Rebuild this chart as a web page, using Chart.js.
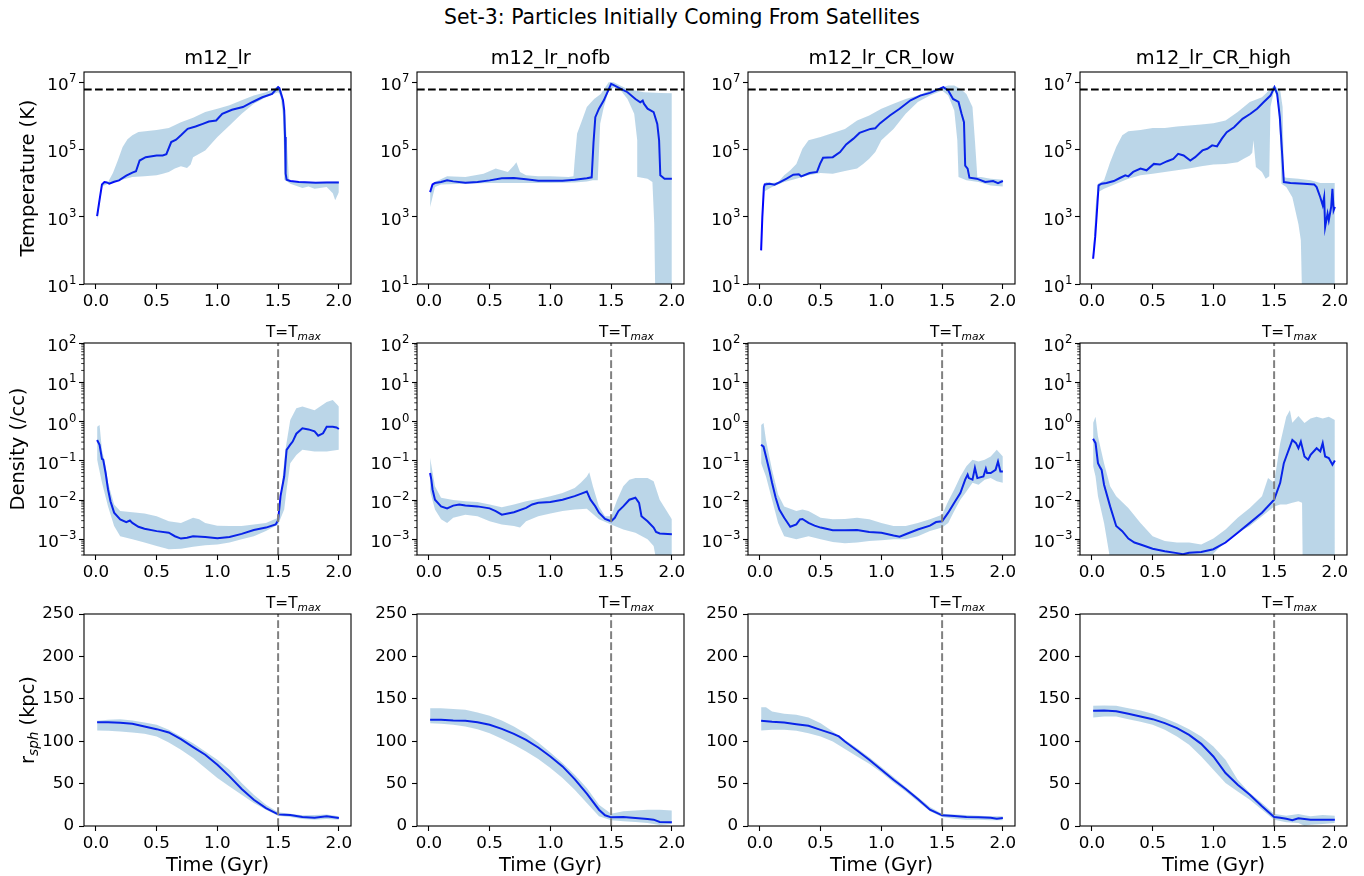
<!DOCTYPE html>
<html>
<head>
<meta charset="utf-8">
<script src="https://cdn.jsdelivr.net/npm/chart.js@4.4.0/dist/chart.umd.min.js"></script>
<style>
  body { margin: 0; background: #fff; }
  #fig { position: relative; width: 1364px; height: 876px; background: #fff; overflow: hidden; }
  #fig canvas { position: absolute; }
  #suptitle { position: absolute; left: 0; top: 5px; width: 1364px; text-align: center;
              font: 20.4px "DejaVu Sans", sans-serif; color: #000; }
</style>
</head>
<body>
<div id="fig">
  <div id="suptitle">Set-3: Particles Initially Coming From Satellites</div>
</div>
<script>
const runNames = ['m12_lr', 'm12_lr_nofb', 'm12_lr_CR_low', 'm12_lr_CR_high'];
const xTicks = [0, 0.5, 1.0, 1.5, 2.0];
const tempTicks = [1e1, 1e3, 1e5, 1e7];
const densTicks = [1e-3, 1e-2, 1e-1, 1e0, 1e1, 1e2];
const radTicks = [0, 50, 100, 150, 200, 250];
const tempRef = 6e6;   // black dashed line in the temperature panels
const tMax = 1.5;      // T = T_max marker (Gyr)

// temperature: [time (Gyr), log10 T (K)]
const tempMed_lr = [[0.01,3.02],[0.03,3.5],[0.05,3.96],[0.07,4.03],[0.09,4.02],[0.11,3.98],[0.15,4.04],[0.19,4.08],[0.25,4.22],[0.3,4.31],[0.33,4.35],[0.36,4.67],[0.41,4.77],[0.5,4.82],[0.55,4.82],[0.58,4.86],[0.62,5.22],[0.66,5.29],[0.7,5.42],[0.755,5.61],[0.82,5.68],[0.88,5.76],[0.93,5.83],[0.99,5.86],[1.04,6.06],[1.12,6.18],[1.21,6.26],[1.29,6.41],[1.37,6.55],[1.45,6.65],[1.5,6.85],[1.51,6.82],[1.54,6.46],[1.55,6.16],[1.557,5.37],[1.562,4.28],[1.57,4.1],[1.6,4.06],[1.67,4.03],[1.81,4.01],[1.9,4.02],[2.0,4.02]];
const tempHi_lr = [[0.01,3.09],[0.05,3.98],[0.1,4.03],[0.14,4.3],[0.18,4.67],[0.22,5.07],[0.26,5.3],[0.3,5.42],[0.35,5.52],[0.5,5.58],[0.6,5.64],[0.7,5.81],[0.8,5.94],[0.9,6.11],[1.0,6.21],[1.1,6.31],[1.2,6.46],[1.3,6.6],[1.4,6.7],[1.5,6.88],[1.53,6.75],[1.56,6.0],[1.575,5.0],[1.59,4.1],[1.6,4.05],[1.8,4.03],[2.0,4.05]];
const tempLo_lr = [[0.01,2.89],[0.05,3.9],[0.1,3.98],[0.2,4.08],[0.3,4.18],[0.4,4.2],[0.5,4.23],[0.55,4.28],[0.6,4.33],[0.65,4.43],[0.7,4.5],[0.75,4.45],[0.78,4.55],[0.8,4.77],[0.9,4.97],[0.95,5.17],[1.0,5.37],[1.1,5.71],[1.2,6.06],[1.3,6.36],[1.4,6.55],[1.5,6.7],[1.52,6.6],[1.54,6.0],[1.55,4.8],[1.555,4.1],[1.6,3.98],[1.7,3.85],[1.75,3.9],[1.8,3.83],[1.9,3.88],[1.95,3.7],[1.97,3.49],[2.0,3.73]];

const tempMed_nofb = [[0.01,3.73],[0.03,3.96],[0.05,4.0],[0.1,4.03],[0.15,4.08],[0.2,4.05],[0.3,4.01],[0.4,4.03],[0.5,4.08],[0.6,4.14],[0.7,4.15],[0.8,4.11],[0.9,4.07],[1.0,4.07],[1.1,4.07],[1.2,4.1],[1.3,4.14],[1.34,4.17],[1.355,5.2],[1.37,5.96],[1.4,6.21],[1.44,6.46],[1.5,6.95],[1.51,6.93],[1.58,6.8],[1.635,6.7],[1.7,6.5],[1.74,6.4],[1.76,6.45],[1.77,6.36],[1.8,6.21],[1.85,6.11],[1.88,5.76],[1.895,5.27],[1.905,4.23],[1.94,4.13],[2.0,4.13]];
const tempHi_nofb = [[0.01,3.78],[0.05,4.03],[0.15,4.2],[0.3,4.18],[0.45,4.28],[0.55,4.43],[0.65,4.33],[0.7,4.52],[0.72,4.62],[0.75,4.33],[0.8,4.23],[0.9,4.2],[1.0,4.2],[1.15,4.18],[1.19,4.2],[1.2,4.67],[1.22,5.47],[1.26,5.86],[1.3,6.26],[1.36,6.5],[1.415,6.65],[1.48,7.0],[1.52,7.0],[1.63,6.8],[1.77,6.7],[1.91,6.68],[2.0,6.67]];
const tempLo_nofb = [[0.01,3.29],[0.05,3.88],[0.1,3.96],[0.3,3.98],[0.5,4.0],[0.8,4.0],[1.0,4.0],[1.2,4.02],[1.3,4.05],[1.35,4.08],[1.39,4.08],[1.41,5.76],[1.44,6.26],[1.48,6.75],[1.525,6.85],[1.58,6.75],[1.635,6.5],[1.69,6.06],[1.715,5.27],[1.72,4.18],[1.8,4.13],[1.84,4.03],[1.855,2.8],[1.87,-1],[2.0,-1]];

const tempMed_low = [[0.01,2.0],[0.02,2.99],[0.033,3.88],[0.04,3.96],[0.08,3.98],[0.12,3.95],[0.165,4.03],[0.22,4.13],[0.275,4.25],[0.32,4.26],[0.34,4.2],[0.41,4.3],[0.47,4.33],[0.495,4.57],[0.52,4.75],[0.6,4.77],[0.66,4.92],[0.71,5.15],[0.77,5.32],[0.82,5.49],[0.91,5.61],[0.95,5.63],[0.99,5.78],[1.07,6.01],[1.15,6.21],[1.24,6.46],[1.32,6.6],[1.4,6.68],[1.46,6.77],[1.51,6.85],[1.55,6.75],[1.59,6.5],[1.635,6.41],[1.66,6.06],[1.68,5.81],[1.69,4.52],[1.71,4.43],[1.725,4.16],[1.785,4.13],[1.855,4.03],[1.92,4.06],[1.96,4.0],[2.0,4.06]];
const tempHi_low = [[0.01,2.1],[0.03,3.88],[0.05,4.03],[0.1,4.0],[0.15,4.03],[0.2,4.23],[0.25,4.38],[0.3,4.57],[0.35,5.02],[0.4,5.27],[0.5,5.37],[0.6,5.49],[0.7,5.61],[0.8,5.86],[0.9,6.01],[1.0,6.21],[1.1,6.36],[1.2,6.5],[1.3,6.6],[1.4,6.75],[1.5,6.85],[1.55,6.9],[1.6,6.9],[1.65,6.8],[1.7,6.65],[1.75,6.26],[1.77,5.27],[1.79,4.18],[1.82,4.18],[1.9,4.13],[2.0,4.1]];
const tempLo_low = [[0.01,1.95],[0.03,3.73],[0.05,3.78],[0.1,3.88],[0.2,4.03],[0.3,4.13],[0.4,4.23],[0.5,4.3],[0.6,4.28],[0.7,4.36],[0.8,4.43],[0.85,4.57],[0.9,4.72],[0.95,4.92],[1.0,5.27],[1.1,5.61],[1.2,6.06],[1.3,6.41],[1.4,6.6],[1.5,6.75],[1.55,6.6],[1.6,6.16],[1.625,5.27],[1.635,4.18],[1.7,4.08],[1.8,4.03],[1.9,3.93],[2.0,3.9]];

const tempMed_high = [[0.01,1.75],[0.027,2.4],[0.04,3.09],[0.055,3.93],[0.08,3.98],[0.12,4.0],[0.18,4.06],[0.23,4.15],[0.275,4.23],[0.3,4.2],[0.34,4.33],[0.4,4.43],[0.45,4.38],[0.51,4.57],[0.56,4.55],[0.62,4.65],[0.67,4.72],[0.71,4.87],[0.755,4.82],[0.81,4.67],[0.85,4.77],[0.91,4.97],[0.95,5.02],[0.99,5.12],[1.03,5.09],[1.07,5.32],[1.11,5.51],[1.17,5.66],[1.24,5.91],[1.305,6.06],[1.36,6.21],[1.415,6.41],[1.47,6.6],[1.503,6.85],[1.525,6.65],[1.547,5.96],[1.566,4.87],[1.58,4.03],[1.635,4.0],[1.745,3.98],[1.83,3.96],[1.85,3.88],[1.88,3.58],[1.9,3.34],[1.912,3.58],[1.92,2.69],[1.94,3.09],[1.95,2.89],[1.97,3.3],[1.98,3.83],[1.99,3.19],[2.0,3.29]];
const tempHi_high = [[0.01,1.9],[0.03,3.29],[0.05,3.98],[0.1,4.08],[0.15,4.62],[0.2,5.07],[0.25,5.42],[0.3,5.54],[0.4,5.58],[0.5,5.64],[0.6,5.64],[0.7,5.68],[0.8,5.71],[0.9,5.74],[1.0,5.78],[1.1,5.86],[1.2,6.11],[1.3,6.41],[1.4,6.55],[1.5,6.9],[1.55,6.75],[1.57,6.26],[1.58,4.18],[1.6,4.16],[1.7,4.13],[1.8,4.08],[1.88,4.0],[2.0,4.0]];
const tempLo_high = [[0.01,1.7],[0.03,2.69],[0.05,3.73],[0.1,3.83],[0.2,3.98],[0.3,4.13],[0.4,4.23],[0.5,4.28],[0.6,4.33],[0.7,4.38],[0.8,4.43],[0.9,4.5],[1.0,4.55],[1.1,4.57],[1.2,4.62],[1.25,4.72],[1.3,4.82],[1.32,4.9],[1.33,5.27],[1.35,4.48],[1.4,4.33],[1.43,4.13],[1.46,4.2],[1.47,6.26],[1.5,6.75],[1.53,6.5],[1.55,5.27],[1.56,3.98],[1.6,3.88],[1.65,3.58],[1.7,2.78],[1.72,2.3],[1.74,-1],[2.0,-1]];

// density: [time (Gyr), log10 n (/cc)]
const densMed_lr = [[0.01,-0.47],[0.03,-0.59],[0.05,-0.95],[0.06,-0.97],[0.08,-1.31],[0.1,-1.73],[0.12,-2.03],[0.15,-2.32],[0.2,-2.49],[0.25,-2.56],[0.28,-2.52],[0.3,-2.58],[0.35,-2.68],[0.4,-2.73],[0.5,-2.79],[0.6,-2.83],[0.65,-2.92],[0.7,-2.98],[0.75,-2.96],[0.8,-2.92],[0.9,-2.94],[1.0,-2.97],[1.1,-2.94],[1.2,-2.86],[1.3,-2.76],[1.4,-2.7],[1.48,-2.62],[1.5,-2.51],[1.52,-1.9],[1.55,-1.4],[1.57,-0.72],[1.6,-0.59],[1.62,-0.51],[1.65,-0.31],[1.7,-0.17],[1.75,-0.2],[1.8,-0.25],[1.83,-0.36],[1.87,-0.3],[1.9,-0.13],[1.95,-0.13],[1.98,-0.15],[2.0,-0.19]];
const densHi_lr = [[0.01,-0.13],[0.03,-0.09],[0.05,-0.72],[0.08,-1.14],[0.1,-1.56],[0.15,-2.11],[0.2,-2.28],[0.3,-2.31],[0.4,-2.34],[0.5,-2.41],[0.6,-2.54],[0.7,-2.58],[0.8,-2.45],[0.85,-2.49],[0.9,-2.58],[1.0,-2.65],[1.1,-2.66],[1.2,-2.66],[1.3,-2.62],[1.4,-2.58],[1.5,-2.45],[1.53,-1.65],[1.56,-0.72],[1.6,0.04],[1.65,0.34],[1.7,0.38],[1.8,0.29],[1.9,0.5],[1.95,0.55],[2.0,0.38]];
const densLo_lr = [[0.01,-0.97],[0.05,-1.56],[0.1,-2.16],[0.15,-2.66],[0.2,-2.92],[0.3,-3.0],[0.4,-3.08],[0.5,-3.17],[0.6,-3.25],[0.7,-3.24],[0.8,-3.19],[0.9,-3.15],[1.0,-3.13],[1.1,-3.08],[1.2,-3.0],[1.3,-2.92],[1.4,-2.79],[1.5,-2.62],[1.55,-2.24],[1.57,-1.73],[1.6,-1.06],[1.65,-0.85],[1.7,-0.72],[1.8,-0.76],[1.9,-0.76],[2.0,-0.72]];

const densMed_nofb = [[0.01,-1.31],[0.02,-1.48],[0.03,-1.73],[0.05,-1.99],[0.1,-2.16],[0.15,-2.21],[0.2,-2.14],[0.25,-2.11],[0.3,-2.14],[0.4,-2.16],[0.5,-2.21],[0.55,-2.28],[0.6,-2.37],[0.7,-2.31],[0.8,-2.2],[0.85,-2.11],[0.9,-2.07],[1.0,-2.05],[1.1,-1.99],[1.2,-1.9],[1.25,-1.84],[1.3,-1.78],[1.33,-1.99],[1.37,-2.16],[1.4,-2.32],[1.45,-2.48],[1.5,-2.54],[1.53,-2.45],[1.56,-2.28],[1.6,-2.16],[1.65,-1.99],[1.7,-1.94],[1.73,-2.07],[1.75,-2.41],[1.8,-2.54],[1.85,-2.7],[1.87,-2.81],[1.9,-2.85],[2.0,-2.87]];
const densHi_nofb = [[0.01,-0.93],[0.05,-1.65],[0.1,-1.94],[0.2,-2.0],[0.3,-2.03],[0.4,-2.05],[0.5,-2.11],[0.6,-2.18],[0.7,-2.11],[0.8,-2.03],[0.9,-1.97],[1.0,-1.9],[1.1,-1.82],[1.2,-1.69],[1.25,-1.56],[1.3,-1.4],[1.32,-1.29],[1.35,-1.65],[1.4,-2.16],[1.45,-2.41],[1.5,-2.41],[1.55,-1.99],[1.6,-1.65],[1.65,-1.48],[1.7,-1.44],[1.8,-1.44],[1.85,-1.52],[1.9,-1.99],[1.95,-2.24],[2.0,-2.49]];
const densLo_nofb = [[0.01,-1.78],[0.05,-2.24],[0.1,-2.49],[0.15,-2.58],[0.2,-2.45],[0.3,-2.37],[0.4,-2.41],[0.5,-2.54],[0.6,-2.62],[0.7,-2.66],[0.75,-2.7],[0.8,-2.54],[0.9,-2.41],[1.0,-2.34],[1.1,-2.28],[1.2,-2.24],[1.3,-2.22],[1.4,-2.49],[1.5,-2.62],[1.6,-2.75],[1.7,-2.83],[1.8,-3.0],[1.85,-3.17],[1.87,-3.5],[1.88,-6],[2.0,-6]];

const densMed_low = [[0.01,-0.59],[0.03,-0.64],[0.05,-0.89],[0.08,-1.27],[0.1,-1.56],[0.13,-1.94],[0.16,-2.24],[0.2,-2.45],[0.25,-2.68],[0.3,-2.62],[0.33,-2.49],[0.35,-2.48],[0.4,-2.58],[0.45,-2.65],[0.5,-2.7],[0.6,-2.77],[0.7,-2.77],[0.8,-2.76],[0.9,-2.81],[1.0,-2.83],[1.1,-2.9],[1.15,-2.93],[1.2,-2.87],[1.3,-2.75],[1.4,-2.65],[1.45,-2.56],[1.5,-2.54],[1.55,-2.32],[1.6,-2.07],[1.65,-1.82],[1.69,-1.48],[1.71,-1.35],[1.72,-1.44],[1.75,-1.48],[1.77,-1.18],[1.79,-1.44],[1.84,-1.4],[1.86,-1.2],[1.87,-1.31],[1.9,-1.31],[1.94,-1.23],[1.96,-1.02],[1.98,-1.27],[2.0,-1.27]];
const densHi_low = [[0.01,-0.09],[0.03,-0.04],[0.05,-0.47],[0.1,-1.23],[0.15,-1.86],[0.2,-2.16],[0.3,-2.28],[0.35,-2.24],[0.4,-2.28],[0.5,-2.45],[0.6,-2.49],[0.7,-2.48],[0.8,-2.45],[0.9,-2.49],[1.0,-2.58],[1.1,-2.66],[1.2,-2.66],[1.3,-2.58],[1.4,-2.49],[1.5,-2.37],[1.55,-2.03],[1.6,-1.73],[1.65,-1.4],[1.7,-1.14],[1.75,-0.97],[1.8,-1.02],[1.85,-0.97],[1.9,-0.89],[1.95,-0.72],[2.0,-0.89]];
const densLo_low = [[0.01,-1.06],[0.05,-1.4],[0.1,-1.99],[0.15,-2.58],[0.2,-2.92],[0.3,-3.0],[0.4,-2.92],[0.5,-3.0],[0.6,-3.07],[0.7,-3.1],[0.8,-3.08],[0.9,-3.04],[1.0,-3.02],[1.1,-3.0],[1.2,-3.0],[1.3,-2.92],[1.4,-2.79],[1.5,-2.7],[1.55,-2.58],[1.6,-2.28],[1.65,-1.99],[1.7,-1.78],[1.75,-1.56],[1.8,-1.61],[1.85,-1.48],[1.9,-1.44],[1.95,-1.52],[2.0,-1.56]];

const densMed_high = [[0.01,-0.44],[0.03,-0.55],[0.05,-1.06],[0.07,-1.18],[0.08,-1.23],[0.1,-1.61],[0.15,-2.16],[0.2,-2.66],[0.25,-2.79],[0.3,-2.98],[0.35,-3.08],[0.4,-3.13],[0.5,-3.24],[0.6,-3.3],[0.7,-3.35],[0.75,-3.38],[0.8,-3.34],[0.9,-3.32],[1.0,-3.25],[1.1,-3.08],[1.2,-2.83],[1.3,-2.58],[1.4,-2.32],[1.5,-1.99],[1.55,-1.56],[1.58,-1.06],[1.6,-0.89],[1.63,-0.64],[1.65,-0.47],[1.68,-0.55],[1.7,-0.68],[1.72,-0.51],[1.75,-0.89],[1.78,-0.97],[1.8,-0.85],[1.85,-0.68],[1.88,-0.76],[1.9,-0.55],[1.92,-0.89],[1.95,-0.93],[1.98,-1.1],[2.0,-0.99]];
const densHi_high = [[0.01,-0.03],[0.03,0.12],[0.05,-0.38],[0.1,-1.06],[0.15,-1.65],[0.2,-1.9],[0.3,-2.2],[0.4,-2.58],[0.5,-2.92],[0.6,-3.04],[0.7,-3.08],[0.8,-3.08],[0.9,-3.13],[1.0,-2.98],[1.1,-2.75],[1.2,-2.45],[1.3,-2.2],[1.4,-1.9],[1.45,-1.44],[1.5,-1.56],[1.55,-0.55],[1.6,0.12],[1.63,0.29],[1.65,-0.03],[1.7,0.14],[1.75,-0.04],[1.8,0.08],[1.85,0.12],[1.9,0.08],[1.95,0.12],[2.0,0.04]];
const densLo_high = [[0.01,-1.14],[0.03,-1.4],[0.05,-1.9],[0.1,-2.58],[0.15,-3.5],[0.17,-5],[0.97,-5],[1.0,-3.36],[1.05,-3.21],[1.1,-3.08],[1.2,-2.83],[1.3,-2.66],[1.4,-2.41],[1.5,-2.16],[1.55,-2.11],[1.6,-2.11],[1.65,-2.07],[1.7,-2.03],[1.73,-2.07],[1.74,-5],[2.0,-5]];

// spherical radius: [time (Gyr), r (kpc)]
const radMed_lr = [[0.01,122.4],[0.1,122.4],[0.2,121.7],[0.3,120.5],[0.4,117.3],[0.5,114.2],[0.6,110.3],[0.7,102.4],[0.8,93],[0.9,84],[1.0,72.2],[1.1,58.5],[1.2,43.6],[1.3,31],[1.4,21.2],[1.5,13.7],[1.55,13.3],[1.6,13],[1.7,10.6],[1.8,9.8],[1.9,11.4],[2.0,9.4]];
const radHi_lr = [[0.01,124],[0.1,125.2],[0.2,126],[0.3,124.4],[0.4,122],[0.5,119.3],[0.6,113.4],[0.7,105.6],[0.8,97.7],[0.9,87.9],[1.0,78.1],[1.1,66.3],[1.2,50.6],[1.3,36.9],[1.4,25.1],[1.5,16.1],[1.6,14.5],[1.7,12.6],[1.8,13],[1.9,13.7],[2.0,11.4]];
const radLo_lr = [[0.01,112.6],[0.1,112.2],[0.2,111.5],[0.3,110.3],[0.4,108.7],[0.5,105.6],[0.6,98.5],[0.7,89.9],[0.8,80.1],[0.9,68.3],[1.0,56.5],[1.1,46.7],[1.2,36.9],[1.3,27.1],[1.4,19.2],[1.5,12.2],[1.6,10.6],[1.7,8.2],[1.8,7.5],[1.9,8.2],[2.0,7.5]];

const radMed_nofb = [[0.01,125.2],[0.1,125.2],[0.2,124.4],[0.3,124],[0.4,122.4],[0.5,119.3],[0.6,114.6],[0.7,108.7],[0.8,101.6],[0.9,92.6],[1.0,82],[1.1,70.3],[1.2,55.3],[1.3,38.1],[1.4,19.2],[1.45,12.6],[1.5,10.2],[1.6,10.6],[1.7,9.4],[1.8,8.2],[1.85,7.5],[1.9,4.7],[2.0,4.3]];
const radHi_nofb = [[0.01,138.9],[0.1,138.9],[0.2,138.1],[0.3,137],[0.4,133.8],[0.5,129.9],[0.6,124.4],[0.7,117.3],[0.8,108.7],[0.9,98.5],[1.0,86.7],[1.1,74.2],[1.2,60.4],[1.3,44.7],[1.4,25.1],[1.5,14.5],[1.6,17.3],[1.7,18.4],[1.8,19.2],[1.9,19.2],[2.0,18.4]];
const radLo_nofb = [[0.01,121.3],[0.1,120.5],[0.2,119.3],[0.3,117.3],[0.4,114.2],[0.5,109.5],[0.6,102.8],[0.7,95.8],[0.8,87.9],[0.9,78.9],[1.0,68.3],[1.1,56.5],[1.2,42.8],[1.3,27.1],[1.4,11.4],[1.5,6.7],[1.6,5.5],[1.7,4.7],[1.8,3.5],[1.9,1.2],[2.0,2.4]];

const radMed_low = [[0.01,124],[0.1,122.8],[0.2,122],[0.3,120],[0.4,118.1],[0.5,113.4],[0.6,108.7],[0.65,105.6],[0.7,99.7],[0.8,89.1],[0.9,78.1],[1.0,66.3],[1.1,54.6],[1.2,43.6],[1.3,31.8],[1.4,19.2],[1.5,12.6],[1.6,11.8],[1.7,10.6],[1.8,10.2],[1.9,9.8],[1.95,8.6],[2.0,9.4]];
const radHi_low = [[0.01,140.1],[0.05,140.1],[0.1,135],[0.2,132.3],[0.3,131.1],[0.4,127.9],[0.5,121.3],[0.6,111.5],[0.7,101.6],[0.8,91.8],[0.9,81.2],[1.0,69.5],[1.1,57.7],[1.2,45.9],[1.3,34.1],[1.4,22.4],[1.5,14.5],[1.6,13.7],[1.7,13],[1.8,12.2],[1.9,11.4],[2.0,11.4]];
const radLo_low = [[0.01,112.6],[0.1,113.4],[0.2,113.4],[0.3,112.2],[0.4,109.5],[0.5,105.6],[0.6,99.7],[0.7,90.7],[0.8,82],[0.9,73.4],[1.0,63.2],[1.1,51.4],[1.2,40.8],[1.3,29],[1.4,17.3],[1.5,10.6],[1.6,8.6],[1.7,7.5],[1.8,7.5],[1.9,6.7],[2.0,6.7]];

const radMed_high = [[0.01,135.8],[0.1,136.2],[0.2,135.4],[0.3,132.3],[0.4,129.1],[0.5,126],[0.6,121.3],[0.7,115.4],[0.8,107.5],[0.9,96.9],[1.0,82],[1.1,62.4],[1.2,48.7],[1.3,36.9],[1.4,23.2],[1.5,10.6],[1.55,9.8],[1.6,8.6],[1.65,6.7],[1.7,9],[1.8,7.5],[1.9,7.5],[2.0,7.5]];
const radHi_high = [[0.01,141.7],[0.1,142.1],[0.2,141.7],[0.3,138.9],[0.4,136.2],[0.5,132.3],[0.6,127.2],[0.7,121.3],[0.8,114.2],[0.9,105.6],[1.0,93.8],[1.1,78.1],[1.2,54.6],[1.3,38.9],[1.4,27.1],[1.5,14.5],[1.6,12.2],[1.7,14.1],[1.75,12.6],[1.8,11.4],[1.9,13],[2.0,12.2]];
const radLo_high = [[0.01,128],[0.1,129.1],[0.2,129.1],[0.3,126],[0.4,122.8],[0.5,119.3],[0.6,113.4],[0.7,105.6],[0.8,95.8],[0.9,82],[1.0,66.3],[1.1,50.6],[1.2,40.8],[1.3,31],[1.4,19.2],[1.5,7.5],[1.6,4.3],[1.7,3.5],[1.75,0.4],[1.8,1.6],[1.9,2.4],[2.0,3.5]];

const tempSeries = [[tempLo_lr, tempHi_lr, tempMed_lr], [tempLo_nofb, tempHi_nofb, tempMed_nofb],
                    [tempLo_low, tempHi_low, tempMed_low], [tempLo_high, tempHi_high, tempMed_high]];
const densSeries = [[densLo_lr, densHi_lr, densMed_lr], [densLo_nofb, densHi_nofb, densMed_nofb],
                    [densLo_low, densHi_low, densMed_low], [densLo_high, densHi_high, densMed_high]];
const radSeries = [[radLo_lr, radHi_lr, radMed_lr], [radLo_nofb, radHi_nofb, radMed_nofb],
                   [radLo_low, radHi_low, radMed_low], [radLo_high, radHi_high, radMed_high]];
const rowSeries = [tempSeries, densSeries, radSeries];

const rowAxes = [
    { log: true, min: 1e1, max: 2e7, ticks: tempTicks, minor: false, label: 'Temperature (K)', labelOffset: 50 },
    { log: true, min: 4e-4, max: 1e2, ticks: densTicks, minor: true, label: 'Density (/cc)', labelOffset: 60 },
    { log: false, min: 0, max: 250, ticks: radTicks, minor: false, label: null, labelOffset: 50 }
];

const FONT = '"DejaVu Sans", sans-serif';
const colLeft = [84, 417, 748, 1080];
const rowTop = [72, 343, 614];
const plotW = 267, plotH = 212;
const padL = 84, padT = 42, padR = 14, padB = 50;
const bandColor = 'rgba(31,119,180,0.3)';

const toPoints = (arr, log) => arr.map(([t, v]) => ({ x: t, y: log ? Math.pow(10, v) : v }));

function drawPow10(ctx, right, py, exp) {
    const e = exp < 0 ? '\u2212' + Math.abs(exp) : String(exp);
    ctx.font = '16.7px ' + FONT;
    const wBase = ctx.measureText('10').width;
    ctx.font = '11.7px ' + FONT;
    const wExp = ctx.measureText(e).width;
    const left = right - wBase - wExp - 0.5;
    ctx.textAlign = 'left';
    ctx.textBaseline = 'alphabetic';
    ctx.font = '16.7px ' + FONT;
    ctx.fillText('10', left, py + 8);
    ctx.font = '11.7px ' + FONT;
    ctx.fillText(e, left + wBase + 0.5, py);
}

function makeDecor(row, col) {
    const ax = rowAxes[row];
    return {
        id: 'decor',
        afterDatasetsDraw(chart) {
            const { ctx, chartArea: a, scales } = chart;
            ctx.save();
            ctx.beginPath();
            ctx.rect(a.left, a.top, a.right - a.left, a.bottom - a.top);
            ctx.clip();
            ctx.lineWidth = 2;
            ctx.setLineDash([7.7, 3.3]);
            ctx.beginPath();
            if (row === 0) {
                const py = scales.y.getPixelForValue(tempRef);
                ctx.strokeStyle = '#000';
                ctx.moveTo(a.left, py);
                ctx.lineTo(a.right, py);
            } else {
                const px = scales.x.getPixelForValue(tMax);
                ctx.strokeStyle = '#808080';
                ctx.moveTo(px, a.bottom);
                ctx.lineTo(px, a.top);
            }
            ctx.stroke();
            ctx.restore();
        },
        afterDraw(chart) {
            const { ctx, chartArea: a, scales: { x, y } } = chart;
            const cx = (a.left + a.right) / 2, cy = (a.top + a.bottom) / 2;
            ctx.save();
            ctx.strokeStyle = '#000';
            ctx.lineWidth = 1.1;
            ctx.strokeRect(a.left, a.top, a.right - a.left, a.bottom - a.top);
            ctx.fillStyle = '#000';
            ctx.textBaseline = 'alphabetic';

            if (row === 0) {
                ctx.font = '19.4px ' + FONT;
                ctx.textAlign = 'center';
                ctx.fillText(runNames[col], cx, a.top - 8);
            }
            if (row === 2) {
                ctx.font = '19.4px ' + FONT;
                ctx.textAlign = 'center';
                ctx.fillText('Time (Gyr)', cx, a.bottom + 45);
            }
            if (ax.log) {
                ax.ticks.forEach(v => drawPow10(ctx, a.left - 7.5, y.getPixelForValue(v), Math.round(Math.log10(v))));
            }
            if (ax.minor) {
                ctx.lineWidth = 0.8;
                for (let d = Math.floor(Math.log10(ax.min)); d < Math.log10(ax.max); d++) {
                    for (let k = 2; k <= 9; k++) {
                        const v = k * Math.pow(10, d);
                        if (v < ax.min || v > ax.max) continue;
                        const py = y.getPixelForValue(v);
                        ctx.beginPath();
                        ctx.moveTo(a.left, py);
                        ctx.lineTo(a.left - 2.8, py);
                        ctx.stroke();
                    }
                }
            }
            if (row > 0) {
                const lx = x.getPixelForValue(tMax - 0.1);
                ctx.textAlign = 'left';
                ctx.font = '15.3px ' + FONT;
                ctx.fillText('T=T', lx, a.top - 6);
                const w = ctx.measureText('T=T').width;
                ctx.font = 'italic 10.7px ' + FONT;
                ctx.fillText('max', lx + w, a.top - 3);
            }
            if (col === 0) {
                ctx.translate(a.left - ax.labelOffset, cy);
                ctx.rotate(-Math.PI / 2);
                ctx.textAlign = 'left';
                if (ax.label) {
                    ctx.font = '19.4px ' + FONT;
                    const w = ctx.measureText(ax.label).width;
                    ctx.fillText(ax.label, -w / 2, 0);
                } else {
                    ctx.font = '19.4px ' + FONT;
                    const w1 = ctx.measureText('r').width;
                    const w3 = ctx.measureText(' (kpc)').width;
                    ctx.font = 'italic 13.6px ' + FONT;
                    const w2 = ctx.measureText('sph').width;
                    const x0 = -(w1 + w2 + w3) / 2;
                    ctx.font = '19.4px ' + FONT;
                    ctx.fillText('r', x0, 0);
                    ctx.fillText(' (kpc)', x0 + w1 + w2, 0);
                    ctx.font = 'italic 13.6px ' + FONT;
                    ctx.fillText('sph', x0 + w1, 4);
                }
            }
            ctx.restore();
        }
    };
}

const fig = document.getElementById('fig');
const gridOpts = { display: true, drawOnChartArea: false, drawTicks: true, tickLength: 5, tickWidth: 1.1, tickColor: '#000' };

rowSeries.forEach((seriesList, row) => {
    const ax = rowAxes[row];
    seriesList.forEach(([lo, hi, med], col) => {
        const canvas = document.createElement('canvas');
        canvas.width = padL + plotW + padR;
        canvas.height = padT + plotH + padB;
        canvas.style.left = (colLeft[col] - padL) + 'px';
        canvas.style.top = (rowTop[row] - padT) + 'px';
        fig.appendChild(canvas);

        new Chart(canvas, {
            type: 'line',
            data: {
                datasets: [
                    { data: toPoints(lo, ax.log), borderWidth: 0, borderColor: 'rgba(0,0,0,0)', pointRadius: 0, fill: false },
                    { data: toPoints(hi, ax.log), borderWidth: 0, borderColor: 'rgba(0,0,0,0)', pointRadius: 0, fill: '-1', backgroundColor: bandColor },
                    { data: toPoints(med, ax.log), borderColor: '#0000ff', borderWidth: 2, pointRadius: 0, fill: false }
                ]
            },
            options: {
                responsive: false,
                animation: false,
                devicePixelRatio: 1,
                events: [],
                layout: { padding: { top: padT, right: padR, left: 0, bottom: 0 } },
                plugins: { legend: { display: false }, tooltip: { enabled: false }, title: { display: false } },
                scales: {
                    x: {
                        type: 'linear', min: -0.098, max: 2.1, bounds: 'data',
                        afterFit: s => { s.height = padB; },
                        afterBuildTicks: s => { s.ticks = xTicks.map(v => ({ value: v })); },
                        grid: gridOpts,
                        border: { display: false },
                        ticks: { autoSkip: false, maxRotation: 0, padding: 3, color: '#000',
                                 font: { family: 'DejaVu Sans', size: 16.7 },
                                 callback: v => Number(v).toFixed(1) }
                    },
                    y: {
                        type: ax.log ? 'logarithmic' : 'linear', min: ax.min, max: ax.max, bounds: 'data',
                        afterFit: s => { s.width = padL; },
                        afterBuildTicks: s => { s.ticks = ax.ticks.map(v => ({ value: v })); },
                        grid: gridOpts,
                        border: { display: false },
                        ticks: { autoSkip: false, padding: 5, color: '#000',
                                 font: { family: 'DejaVu Sans', size: 16.7 },
                                 callback: v => ax.log ? '' : String(v) }
                    }
                }
            },
            plugins: [makeDecor(row, col)]
        });
    });
});
</script>
</body>
</html>
